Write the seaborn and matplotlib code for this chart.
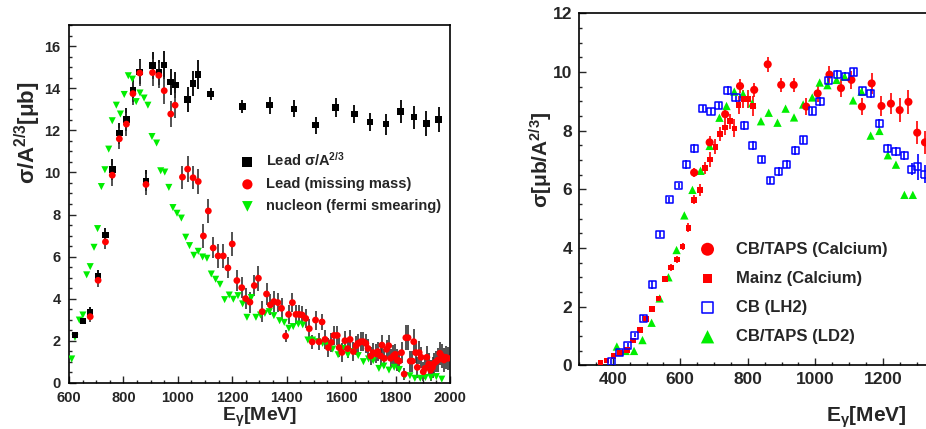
import numpy as np
import pandas as pd
import matplotlib
matplotlib.use("Agg")
import matplotlib.pyplot as plt
from matplotlib.ticker import MultipleLocator
import seaborn as sns

# ---- left panel data: lead, sigma/A^(2/3) [mub] ----
lead_e = [622, 651, 678, 707, 734, 759, 785, 811, 835, 860, 883, 907, 930, 950, 974, 991,
          1036, 1056, 1075, 1121, 1237, 1337, 1427, 1506, 1580, 1649, 1707, 1765, 1819, 1868, 1913, 1958]
lead_s = [2.27, 2.94, 3.33, 5.05, 7.03, 10.13, 11.87, 12.51, 13.9, 14.79, 9.6, 15.08, 14.76, 15.11, 14.3, 14.16,
          13.48, 14.24, 14.67, 13.73, 13.13, 13.2, 13.03, 12.25, 13.1, 12.78, 12.4, 12.3, 12.89, 12.63, 12.33, 12.51]
lead_err = [0.15, 0.15, 0.25, 0.3, 0.35, 0.5, 0.5, 0.55, 0.55, 0.6, 0.5, 0.65, 0.6, 0.65, 0.6, 0.6,
            0.6, 0.6, 0.7, 0.3, 0.3, 0.4, 0.4, 0.4, 0.45, 0.45, 0.45, 0.5, 0.55, 0.55, 0.6, 0.6]

mm_e = [678, 707, 734, 759, 785, 811, 835, 860, 883, 907, 930, 950, 974, 990, 1017, 1036, 1056, 1075,
        1094, 1112, 1130, 1148, 1167, 1184, 1200, 1217, 1235, 1249, 1265, 1281, 1296, 1310, 1326, 1340,
        1353, 1368, 1381, 1396, 1407, 1421, 1434, 1446, 1457, 1470, 1483, 1494, 1506, 1519, 1530, 1541,
        1553, 1564, 1574, 1586, 1593, 1603, 1614, 1624, 1633, 1645, 1655, 1662, 1672, 1682, 1691, 1699,
        1709, 1718, 1728, 1735, 1745, 1750, 1759, 1767, 1775, 1782, 1792, 1799, 1806, 1814, 1822, 1832,
        1838, 1846, 1854, 1862, 1867, 1874, 1880, 1887, 1894, 1902, 1908, 1915, 1922, 1929, 1936, 1942,
        1949, 1956, 1963, 1970, 1978, 1985, 1993]
mm_s = [3.14, 4.87, 6.7, 9.87, 11.6, 12.3, 13.75, 14.73, 9.43, 14.75, 14.62, 13.89, 12.78, 13.2, 9.78, 10.16, 9.75, 9.57,
        6.98, 8.17, 6.41, 6.03, 6.03, 5.46, 6.6, 4.86, 4.52, 4.0, 3.83, 4.62, 4.97, 3.38, 4.22, 3.7,
        3.86, 3.81, 3.54, 2.22, 3.25, 3.81, 3.25, 3.25, 3.22, 3.06, 2.57, 1.94, 2.98, 1.95, 2.89, 2.06,
        1.67, 1.92, 2.25, 2.25, 1.67, 1.44, 2.0, 1.62, 2.06, 1.48, 1.76, 1.87, 1.95, 1.95, 1.87, 1.63,
        1.27, 1.43, 1.37, 1.48, 1.27, 1.79, 1.16, 1.59, 1.76, 1.16, 1.27, 1.35, 1.08, 1.03, 1.43, 0.41,
        2.14, 2.14, 1.03, 1.03, 1.95, 1.43, 0.73, 1.43, 1.21, 0.52, 0.68, 1.21, 0.89, 0.6, 0.73, 0.92,
        1.0, 1.08, 1.4, 1.27, 1.08, 1.21, 1.16]
mm_err = [0.25, 0.3, 0.35, 0.5, 0.5, 0.55, 0.55, 0.6, 0.5, 0.65, 0.6, 0.65, 0.6, 0.6, 0.55, 0.6, 0.55, 0.6,
          0.55, 0.55, 0.5, 0.55, 0.55, 0.5, 0.55, 0.5, 0.5, 0.5, 0.5, 0.5, 0.6, 0.5, 0.5, 0.5,
          0.5, 0.45, 0.5, 0.3, 0.45, 0.45, 0.45, 0.45, 0.45, 0.45, 0.45, 0.35, 0.45, 0.4, 0.4, 0.45,
          0.45, 0.45, 0.45, 0.45, 0.45, 0.45, 0.45, 0.45, 0.45, 0.45, 0.45, 0.45, 0.45, 0.45, 0.45, 0.45,
          0.45, 0.45, 0.45, 0.45, 0.45, 0.5, 0.45, 0.45, 0.5, 0.45, 0.5, 0.5, 0.5, 0.5, 0.5, 0.3,
          0.6, 0.6, 0.5, 0.5, 0.6, 0.5, 0.5, 0.55, 0.5, 0.45, 0.5, 0.55, 0.5, 0.5, 0.5, 0.5,
          0.5, 0.55, 0.55, 0.55, 0.55, 0.55, 0.55]

nuc_e = [610, 622, 638, 651, 665, 678, 692, 705, 719, 732, 746, 759, 774, 789, 803, 818, 833, 847, 861, 876,
         890, 905, 922, 937, 952, 967, 982, 997, 1013, 1029, 1043, 1059, 1075, 1091, 1107, 1123, 1139, 1155,
         1172, 1189, 1204, 1221, 1238, 1254, 1270, 1287, 1304, 1320, 1336, 1353, 1374, 1391, 1408, 1424, 1443,
         1459, 1478, 1495, 1514, 1532, 1550, 1569, 1589, 1607, 1625, 1645, 1663, 1682, 1701, 1718, 1739, 1757,
         1776, 1795, 1814, 1834, 1853, 1871, 1891, 1910, 1930, 1950, 1970]
nuc_s = [1.13, 2.16, 2.98, 3.22, 5.13, 5.52, 6.44, 7.33, 9.33, 10.13, 11.11, 12.46, 13.2, 12.78, 13.71, 14.6, 14.44,
         13.37, 13.78, 13.54, 13.2, 11.71, 11.4, 10.08, 10.02, 9.29, 8.33, 8.06, 7.83, 6.92, 6.52, 6.06, 6.25,
         5.98, 5.92, 5.17, 4.92, 4.68, 3.95, 4.17, 3.97, 4.14, 3.75, 3.11, 4.05, 3.11, 3.22, 3.3, 3.38, 3.19,
         2.95, 2.87, 2.59, 2.67, 2.79, 2.75, 2.03, 2.03, 1.95, 1.87, 1.79, 1.6, 1.33, 1.63, 1.33, 1.48, 1.29,
         1.0, 1.13, 1.05, 0.68, 0.79, 0.6, 0.73, 0.63, 0.33, 0.33, 0.21, 0.21, 0.25, 0.25, 0.29, 0.17]

# ---- right panel data: sigma [mub/A^(2/3)] ----
ca_e = [641, 687, 733, 777, 819, 859, 899, 936, 973, 1007, 1042, 1076, 1107, 1138, 1167, 1196, 1224, 1250, 1276, 1302, 1325]
ca_s = [6.57, 7.6, 8.56, 9.52, 9.39, 10.26, 9.56, 9.56, 8.82, 9.27, 9.91, 9.45, 9.73, 8.82, 9.61, 8.84, 8.92, 8.7, 8.98, 7.93, 7.6]
ca_err = [0.15, 0.2, 0.2, 0.25, 0.25, 0.25, 0.25, 0.25, 0.3, 0.3, 0.3, 0.3, 0.3, 0.3, 0.35, 0.35, 0.35, 0.4, 0.4, 0.4, 0.4]

mainz_e = [363, 381, 402, 421, 442, 460, 480, 499, 517, 535, 554, 572, 590, 607, 624, 641, 658, 674, 688, 704,
           718, 732, 747, 760, 773, 787, 801, 815]
mainz_s = [0.1, 0.16, 0.31, 0.41, 0.53, 0.85, 1.2, 1.58, 1.91, 2.27, 2.95, 3.33, 3.6, 4.05, 4.69, 5.64, 5.98, 6.73,
           7.02, 7.45, 7.88, 8.1, 8.32, 8.08, 8.88, 9.07, 9.07, 8.84]
mainz_err = [0.05, 0.05, 0.05, 0.05, 0.06, 0.07, 0.08, 0.08, 0.08, 0.1, 0.1, 0.12, 0.12, 0.12, 0.15, 0.15, 0.2, 0.2,
             0.25, 0.25, 0.25, 0.25, 0.25, 0.3, 0.3, 0.3, 0.3, 0.35]

lh2_e = [395, 420, 444, 465, 491, 517, 540, 568, 595, 618, 642, 667, 691, 714, 740, 765, 790, 815, 841, 866,
         891, 916, 941, 965, 991, 1014, 1039, 1065, 1089, 1114, 1139, 1164, 1189, 1214, 1239, 1263, 1286, 1304, 1324]
lh2_s = [0.14, 0.44, 0.67, 1.03, 1.6, 2.74, 4.47, 5.64, 6.13, 6.84, 7.4, 8.74, 8.65, 8.85, 9.36, 9.14, 8.17, 7.49,
         7.02, 6.31, 6.6, 6.86, 7.33, 7.68, 8.67, 9.0, 9.7, 9.91, 9.86, 10.0, 9.35, 9.27, 8.25, 7.38, 7.28, 7.16,
         6.69, 6.77, 6.52]
lh2_err = [0.08, 0.08, 0.08, 0.08, 0.1, 0.15, 0.1, 0.1, 0.1, 0.15, 0.15, 0.12, 0.12, 0.12, 0.15, 0.15, 0.15, 0.15,
           0.12, 0.12, 0.15, 0.15, 0.15, 0.15, 0.15, 0.15, 0.15, 0.15, 0.15, 0.15, 0.15, 0.15, 0.15, 0.15, 0.15,
           0.15, 0.2, 0.45, 0.3]

ld2_e = [412, 438, 463, 488, 515, 539, 565, 589, 612, 636, 660, 687, 716, 737, 760, 786, 813, 839, 862, 888,
         912, 937, 964, 991, 1013, 1036, 1063, 1087, 1112, 1137, 1164, 1190, 1215, 1239, 1264, 1289]
ld2_s = [0.64, 0.49, 0.49, 0.86, 1.45, 2.28, 3.0, 3.93, 5.11, 5.98, 6.63, 7.48, 8.44, 8.84, 9.33, 9.25, 8.93,
         8.32, 8.61, 8.27, 8.75, 8.45, 8.89, 9.13, 9.64, 9.55, 9.73, 9.84, 9.03, 9.33, 7.83, 7.99, 7.16, 6.84,
         5.81, 5.81]

RED, GREEN, BLUE = "#ff0000", "#00ee00", "#0000ff"

sns.set_theme(style="ticks")
plt.rcParams["font.family"] = ["Liberation Sans", "DejaVu Sans"]
plt.rcParams["font.weight"] = "bold"
plt.rcParams["mathtext.fontset"] = "custom"
plt.rcParams["mathtext.rm"] = "Liberation Sans:bold"
plt.rcParams["mathtext.it"] = "Liberation Sans:bold"
plt.rcParams["mathtext.bf"] = "Liberation Sans:bold"

fig = plt.figure(figsize=(9.26, 4.29), dpi=100)
ax1 = fig.add_axes([0.0745, 0.1079, 0.4114, 0.8331])
ax2 = fig.add_axes([0.6253, 0.1485, 0.3973, 0.8205])   # right panel runs off the page, as in the original

# left panel
ax1.errorbar(lead_e, lead_s, yerr=lead_err, fmt="none", ecolor="black", elinewidth=1.3, zorder=2)
ax1.errorbar(mm_e, mm_s, yerr=mm_err, fmt="none", ecolor="#333333", elinewidth=1.2, zorder=2)
sns.scatterplot(x=nuc_e, y=nuc_s, marker="v", s=26, color=GREEN, edgecolor="none",
                label="nucleon (fermi smearing)", ax=ax1, zorder=3)
sns.scatterplot(x=lead_e, y=lead_s, marker="s", s=22, color="black", edgecolor="none",
                label=r"Lead σ/A$^{2/3}$", ax=ax1, zorder=4)
sns.scatterplot(x=mm_e, y=mm_s, marker="o", s=24, color=RED, edgecolor="none",
                label="Lead (missing mass)", ax=ax1, zorder=5)
ax1.set_xlim(600, 2000)
ax1.set_ylim(0, 17)
ax1.xaxis.set_major_locator(MultipleLocator(200))
ax1.xaxis.set_minor_locator(MultipleLocator(50))
ax1.yaxis.set_major_locator(MultipleLocator(2))
ax1.yaxis.set_minor_locator(MultipleLocator(0.5))
ax1.set_xlabel(r"E$_{\gamma}$[MeV]", fontsize=14, fontweight="bold", va="center")
ax1.set_ylabel(r"σ/A$^{2/3}$[μb]", fontsize=16, fontweight="bold", va="center")
ax1.xaxis.set_label_coords(0.5, -0.096)
ax1.yaxis.set_label_coords(-0.108, 0.70)
h, l = ax1.get_legend_handles_labels()
order = [1, 2, 0]
ax1.legend([h[i] for i in order], [l[i] for i in order], loc="upper left",
           bbox_to_anchor=(0.43, 0.668), frameon=False, fontsize=10.5, markerscale=1.5,
           handlelength=1.0, handletextpad=0.8, labelspacing=0.55, borderpad=0)

# right panel
ax2.errorbar(mainz_e, mainz_s, yerr=mainz_err, fmt="none", ecolor=RED, elinewidth=1.2, zorder=2)
ax2.errorbar(ca_e, ca_s, yerr=ca_err, fmt="none", ecolor=RED, elinewidth=1.2, zorder=2)
ax2.errorbar(lh2_e, lh2_s, yerr=lh2_err, fmt="none", ecolor=BLUE, elinewidth=1.2, zorder=2)
sns.scatterplot(x=ca_e, y=ca_s, marker="o", s=34, color=RED, edgecolor="none",
                label="CB/TAPS (Calcium)", ax=ax2, zorder=4)
sns.scatterplot(x=mainz_e, y=mainz_s, marker="s", s=16, color=RED, edgecolor="none",
                label="Mainz (Calcium)", ax=ax2, zorder=4)
sns.scatterplot(x=lh2_e, y=lh2_s, marker="s", s=26, facecolor="none", edgecolor=BLUE, linewidth=1.1,
                label="CB (LH2)", ax=ax2, zorder=5)
sns.scatterplot(x=ld2_e, y=ld2_s, marker="^", s=36, color=GREEN, edgecolor="none",
                label="CB/TAPS (LD2)", ax=ax2, zorder=3)
ax2.set_xlim(300, 1390)
ax2.set_ylim(0, 12)
ax2.xaxis.set_major_locator(MultipleLocator(200))
ax2.xaxis.set_minor_locator(MultipleLocator(50))
ax2.yaxis.set_major_locator(MultipleLocator(2))
ax2.yaxis.set_minor_locator(MultipleLocator(0.5))
ax2.set_xlabel(r"E$_{\gamma}$[MeV]", fontsize=15, fontweight="bold", va="center")
ax2.set_ylabel(r"σ[μb/A$^{2/3}$]", fontsize=15, fontweight="bold", va="center")
ax2.xaxis.set_label_coords(0.780, -0.147)
ax2.yaxis.set_label_coords(-0.101, 0.583)
ax2.legend(loc="upper left", bbox_to_anchor=(0.304, 0.375), frameon=False, fontsize=12, markerscale=1.6,
           handlelength=1.0, handletextpad=1.2, labelspacing=0.85, borderpad=0)

ax1.tick_params(axis="both", which="major", labelsize=10.5, direction="in", length=5, width=1, pad=6,
                top=False, right=False)
ax1.tick_params(axis="both", which="minor", direction="in", length=2.5, width=1, top=False, right=False)
ax2.tick_params(axis="both", which="major", labelsize=12.5, direction="in", length=5, width=1, pad=5,
                top=False, right=False)
ax2.tick_params(axis="both", which="minor", direction="in", length=2.5, width=1, top=False, right=False)
for ax in (ax1, ax2):
    for sp in ax.spines.values():
        sp.set_linewidth(1.2)
        sp.set_color("black")
    for t in ax.get_xticklabels() + ax.get_yticklabels():
        t.set_fontweight("bold")

fig.savefig("out.png", dpi=100)
